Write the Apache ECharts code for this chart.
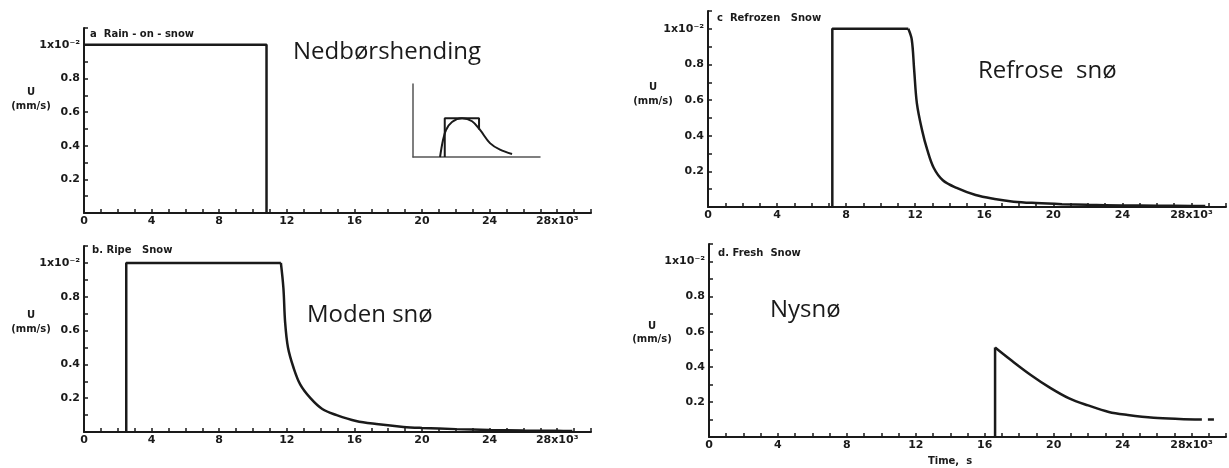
<!DOCTYPE html>
<html>
<head>
    <meta charset="UTF-8">
    <title>Snow runoff</title>
    <script src="https://cdn.jsdelivr.net/npm/echarts@6.0.0/dist/echarts.min.js"></script>
    <style>
        html, body { margin: 0; padding: 0; background: #fff; }
        #chart { width: 1229px; height: 468px; }
    </style>
</head>
<body>
    <div id="chart"></div>
    <script>
        // tick labels
        var xTickValues = [0, 4, 8, 12, 16, 20, 24, 28];
        var xTickLabels = ['0', '4', '8', '12', '16', '20', '24', '28x10³'];
        var yTickValues = [0.2, 0.4, 0.6, 0.8, 1.0];
        var yTickLabels = ['0.2', '0.4', '0.6', '0.8', '1x10⁻²'];

        // a. rain on snow
        var rainStepT = [0, 10.8, 10.8];
        var rainStepU = [1, 1, 0];

        // b. ripe snow
        var ripeStepT = [2.5, 2.5, 11.65];
        var ripeStepU = [0, 1, 1];
        var ripeDecayT = [11.65, 11.8, 11.9, 12.07, 12.4, 12.8, 13.4, 14.1, 14.95, 16.1, 17.3, 18.9, 20, 22, 24, 26, 28, 28.9];
        var ripeDecayU = [1, 0.85, 0.65, 0.5, 0.38, 0.28, 0.2, 0.136, 0.1, 0.065, 0.047, 0.03, 0.024, 0.017, 0.012, 0.009, 0.007, 0.006];

        // c. refrozen snow
        var frozenStepT = [7.2, 7.2, 11.6];
        var frozenStepU = [0, 1, 1];
        var frozenDecayT = [11.6, 11.8, 11.94, 12.1, 12.4, 12.7, 13.07, 13.6, 14.4, 15.5, 16.6, 17.7, 19, 20.5, 22, 24, 26, 28, 28.8];
        var frozenDecayU = [1, 0.94, 0.77, 0.58, 0.43, 0.32, 0.22, 0.15, 0.107, 0.067, 0.045, 0.03, 0.022, 0.016, 0.012, 0.009, 0.007, 0.006, 0.005];

        // d. fresh snow
        var freshStepT = [16.6, 16.6];
        var freshStepU = [0, 0.51];
        var freshDecayT = [16.6, 17.5, 18.65, 19.8, 20.9, 22.0, 23.2, 24.3, 25.8, 27.3, 28.6];
        var freshDecayU = [0.51, 0.44, 0.355, 0.28, 0.22, 0.18, 0.143, 0.126, 0.11, 0.103, 0.1];
        var freshTailT = [28.95, 29.3];
        var freshTailU = [0.1, 0.1];

        // inset sketch in panel a
        var insetBoxT = [2.5, 2.5, 5.2, 5.2];
        var insetBoxU = [0, 0.53, 0.53, 0.38];
        var insetCurveT = [2.13, 2.36, 2.6, 3.07, 3.86, 4.65, 5.28, 6.06, 6.85, 7.8];
        var insetCurveU = [0, 0.23, 0.37, 0.48, 0.53, 0.49, 0.37, 0.19, 0.1, 0.04];

        function pairs(t, u) {
            return t.map(function (v, i) { return [v, u[i]]; });
        }

        function pick(values, labels) {
            return function (v) {
                for (var i = 0; i < values.length; i++) {
                    if (Math.abs(values[i] - v) < 1e-6) return labels[i];
                }
                return '';
            };
        }

        var ink = '#1a1a1a';
        var labelStyle = { color: ink, fontSize: 11, fontWeight: 'bold', fontFamily: 'DejaVu Sans' };

        // grid boxes for panels a, b, c, d and the inset
        var grids = [
            { left: 84, top: 28, width: 507, height: 185 },
            { left: 84, top: 246, width: 507, height: 186 },
            { left: 708, top: 11, width: 532, height: 196 },
            { left: 709, top: 244, width: 532, height: 193 },
            { left: 413, top: 84, width: 127, height: 73 }
        ];

        var xAxes = [], yAxes = [];
        for (var g = 0; g < 4; g++) {
            xAxes.push({
                type: 'value', gridIndex: g, min: 0, max: 30, interval: 1,
                axisLine: { lineStyle: { color: ink, width: 2 } },
                axisTick: { inside: true, length: 4, lineStyle: { color: ink, width: 1.5 } },
                axisLabel: Object.assign({ margin: 3, formatter: pick(xTickValues, xTickLabels), showMaxLabel: true }, labelStyle),
                splitLine: { show: false }
            });
            yAxes.push({
                type: 'value', gridIndex: g, min: 0, max: 1.1, interval: 0.1,
                axisLine: { show: true, lineStyle: { color: ink, width: 2 } },
                axisTick: { show: true, inside: true, length: 4, lineStyle: { color: ink, width: 1.5 } },
                axisLabel: Object.assign({ margin: 4, formatter: pick(yTickValues, yTickLabels) }, labelStyle),
                splitLine: { show: false }
            });
        }
        xAxes.push({
            type: 'value', gridIndex: 4, min: 0, max: 10,
            axisLine: { lineStyle: { color: '#555', width: 1.5 } },
            axisTick: { show: false }, axisLabel: { show: false }, splitLine: { show: false }
        });
        yAxes.push({
            type: 'value', gridIndex: 4, min: 0, max: 1,
            axisLine: { show: true, lineStyle: { color: '#555', width: 1.5 } },
            axisTick: { show: false }, axisLabel: { show: false }, splitLine: { show: false }
        });

        function line(idx, t, u, smooth, width) {
            return {
                type: 'line', xAxisIndex: idx, yAxisIndex: idx,
                data: pairs(t, u), showSymbol: false,
                smooth: smooth ? 0.35 : false,
                lineStyle: { color: ink, width: width || 2.5 },
                silent: true
            };
        }

        var series = [
            line(0, rainStepT, rainStepU, false),
            line(1, ripeStepT, ripeStepU, false),
            line(1, ripeDecayT, ripeDecayU, true),
            line(2, frozenStepT, frozenStepU, false),
            line(2, frozenDecayT, frozenDecayU, true),
            line(3, freshStepT, freshStepU, false),
            line(3, freshDecayT, freshDecayU, true),
            line(3, freshTailT, freshTailU, false),
            line(4, insetBoxT, insetBoxU, false, 2),
            line(4, insetCurveT, insetCurveU, true, 2)
        ];

        function txt(s, x, y, size, family, align, weight) {
            return {
                type: 'text', x: x, y: y, silent: true,
                style: {
                    text: s, fill: ink,
                    font: (weight || 'normal') + ' ' + size + 'px "' + family + '"',
                    textAlign: align || 'left', align: align || 'left',
                    textVerticalAlign: 'middle', verticalAlign: 'middle'
                }
            };
        }

        var graphics = [
            txt('a  Rain - on - snow', 90, 34, 10, 'DejaVu Sans', 'left', 'bold'),
            txt('b. Ripe   Snow', 92, 250, 10, 'DejaVu Sans', 'left', 'bold'),
            txt('c  Refrozen   Snow', 717, 18, 10, 'DejaVu Sans', 'left', 'bold'),
            txt('d. Fresh  Snow', 718, 253, 10, 'DejaVu Sans', 'left', 'bold'),
            txt('U', 31, 92, 10, 'DejaVu Sans', 'center', 'bold'),
            txt('(mm/s)', 31, 106, 10, 'DejaVu Sans', 'center', 'bold'),
            txt('U', 31, 315, 10, 'DejaVu Sans', 'center', 'bold'),
            txt('(mm/s)', 31, 329, 10, 'DejaVu Sans', 'center', 'bold'),
            txt('U', 653, 87, 10, 'DejaVu Sans', 'center', 'bold'),
            txt('(mm/s)', 653, 101, 10, 'DejaVu Sans', 'center', 'bold'),
            txt('U', 652, 326, 10, 'DejaVu Sans', 'center', 'bold'),
            txt('(mm/s)', 652, 339, 10, 'DejaVu Sans', 'center', 'bold'),
            txt('Time,  s', 950, 461, 10, 'DejaVu Sans', 'center', 'bold'),
            txt('Nedbørshending', 293, 52, 24, 'Open Sans'),
            txt('Refrose  snø', 978, 71, 24, 'Open Sans'),
            txt('Moden snø', 307, 315, 24, 'Open Sans'),
            txt('Nysnø', 770, 310, 24, 'Open Sans')
        ];

        var chart = echarts.init(document.getElementById('chart'), null, { renderer: 'canvas' });
        chart.setOption({
            animation: false,
            backgroundColor: '#fff',
            grid: grids,
            xAxis: xAxes,
            yAxis: yAxes,
            series: series,
            graphic: graphics
        });
    </script>
</body>
</html>
